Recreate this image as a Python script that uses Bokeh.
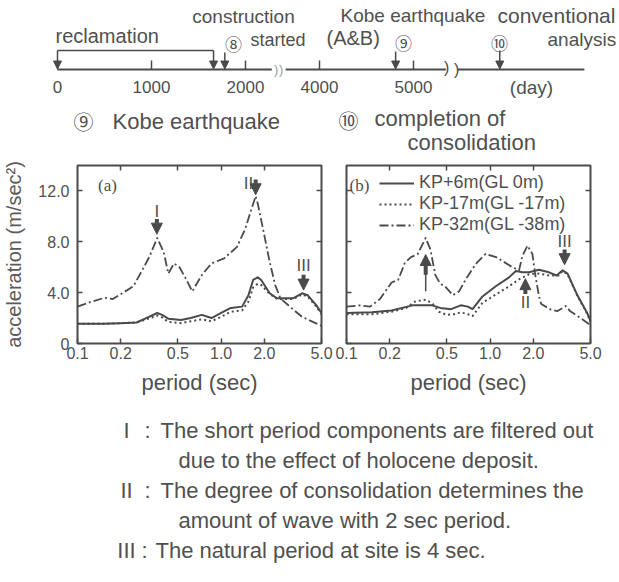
from bokeh.plotting import figure
from bokeh.models import (Range1d, LinearAxis, LogAxis, FixedTicker, PrintfTickFormatter,
                          Arrow, NormalHead)
from bokeh.layouts import column, row
from bokeh.core.properties import value
from bokeh.embed import file_html
from bokeh.resources import INLINE

# ---------------------------------------------------------------- data
# time line (days since start of reclamation)
TICK_DAYS = [0, 1000, 2000, 4000, 5000]
TICK_LABELS = ["0", "1000", "2000", "4000", "5000"]
RECLAMATION = (0, 1660)
CONSTRUCTION_DAY = 1780
KOBE_DAY = 4810
ANALYSIS_DAY = 6550
AXIS_SEGMENTS = [(0, 2280), (3640, 5345), (6100, 7450)]

# panel (a): Kobe earthquake  -- period (sec) / acceleration (m/sec2)
A_T_6 = [0.1, 0.15, 0.2, 0.258, 0.301, 0.359, 0.388, 0.429, 0.526, 0.614, 0.735, 0.857, 1.0,
         1.17, 1.40, 1.55, 1.67, 1.80, 1.90, 2.18, 2.45, 2.91, 3.17, 3.66, 4.0, 4.61, 5.0]
A_KP6 = [1.55, 1.55, 1.6, 1.65, 2.0, 2.4, 2.25, 1.95, 1.85, 2.0, 2.25, 2.0, 2.4,
         2.8, 2.9, 3.8, 5.0, 5.2, 5.0, 3.95, 3.55, 3.55, 3.55, 3.95, 3.8, 3.0, 2.4]
A_T_17 = A_T_6
A_KP17 = [1.55, 1.55, 1.6, 1.65, 1.9, 2.2, 2.05, 1.7, 1.6, 1.75, 1.9, 1.75, 2.1,
          2.5, 2.6, 3.3, 4.4, 4.7, 4.6, 3.9, 3.5, 3.5, 3.5, 3.85, 3.7, 2.9, 2.3]
A_T_32 = [0.1, 0.126, 0.155, 0.176, 0.205, 0.245, 0.271, 0.316, 0.359, 0.398, 0.429, 0.47,
          0.513, 0.568, 0.63, 0.735, 0.857, 1.05, 1.29, 1.47, 1.63, 1.74, 1.80, 2.0, 2.18,
          2.38, 2.59, 3.08, 3.66, 4.35, 5.0]
A_KP32 = [2.9, 3.3, 3.6, 3.5, 3.95, 4.5, 5.4, 6.8, 8.3, 7.2, 5.5, 6.3,
          6.0, 5.1, 4.1, 5.4, 6.3, 6.7, 7.6, 9.0, 10.6, 11.6, 11.0, 8.5, 6.4,
          4.6, 3.55, 2.8, 2.1, 1.7, 1.4]

# panel (b): completion of consolidation
B_T_6 = [0.1, 0.15, 0.206, 0.289, 0.394, 0.45, 0.535, 0.624, 0.70, 0.754, 0.885, 1.095,
         1.355, 1.51, 1.68, 1.87, 2.19, 2.57, 2.9, 3.2, 3.46, 4.07, 4.74, 5.0]
B_KP6 = [2.4, 2.45, 2.6, 3.0, 3.0, 2.8, 2.7, 3.0, 2.9, 2.7, 3.7, 4.5,
         5.2, 5.7, 5.6, 5.6, 5.8, 5.6, 5.35, 5.75, 5.5, 3.75, 2.4, 1.75]
B_T_17 = [0.1, 0.15, 0.206, 0.26, 0.30, 0.356, 0.40, 0.44, 0.50, 0.56, 0.624, 0.70, 0.754,
          0.885, 1.095, 1.355, 1.59, 1.87, 2.19, 2.57, 3.0, 3.2, 3.46, 4.07, 4.74, 5.0]
B_KP17 = [2.3, 2.3, 2.5, 2.8, 3.3, 3.45, 3.1, 2.5, 2.25, 2.3, 2.45, 2.3, 2.15,
          3.2, 3.85, 4.5, 5.05, 5.45, 5.5, 5.35, 5.35, 5.7, 5.45, 3.7, 2.35, 1.7]
B_T_32 = [0.1, 0.124, 0.146, 0.171, 0.206, 0.229, 0.254, 0.281, 0.312, 0.356, 0.384, 0.415,
          0.449, 0.485, 0.55, 0.608, 0.689, 0.801, 0.93, 1.10, 1.43, 1.59, 1.68, 1.82, 1.97,
          2.07, 2.19, 2.27, 2.66, 2.95, 3.37, 3.6, 4.27, 5.0]
B_KP32 = [2.9, 3.0, 2.9, 3.5, 4.8, 5.0, 6.3, 6.8, 7.0, 8.3, 7.4, 5.4,
          4.7, 4.5, 3.8, 4.1, 5.2, 6.3, 7.05, 6.8, 6.0, 5.75, 6.9, 7.7, 7.05,
          5.3, 3.7, 3.1, 2.65, 2.55, 2.95, 2.55, 2.0, 1.45]

SERIES_LABELS = ["KP+6m(GL 0m)", "KP-17m(GL -17m)", "KP-32m(GL -38m)"]
PERIOD_TICKS = [0.1, 0.2, 0.5, 1.0, 2.0, 5.0]
ACC_TICKS = [0, 4, 8, 12]

NOTES = [
    ("I", "The short period components are filtered out", "due to the effect of holocene deposit."),
    ("II", "The degree of consolidation determines the", "amount of wave with 2 sec period."),
    ("III", "The natural period at site is 4 sec.", None),
]

# ---------------------------------------------------------------- style
FONT = "Liberation Sans"
CJK = "Noto Sans CJK JP"
INK = "#4a4a4a"
TXT = "#505050"
DOT = "2 3"
DASHDOT = "9 3 2 3"


def day_to_axis(d):
    """broken time axis: two gaps are cut out"""
    if d <= 2300:
        return d
    if d <= 5400:
        return d - 1213
    return d - 1845


# ---------------------------------------------------------------- time line
PX0, PX_PER = 57.0, 0.094     # screen placement of day 0 and px per day


def px(xp):
    return (xp - PX0) / PX_PER


tl = figure(width=619, height=100, x_range=Range1d(px(0), px(619)), y_range=Range1d(100, 0),
            y_axis_type=None, output_backend="svg", toolbar_location=None,
            min_border=0, outline_line_color=None,
            background_fill_color="white", border_fill_color="white")
tl.xgrid.visible = False
ax = tl.xaxis[0]
ax.fixed_location = 69
ax.ticker = FixedTicker(ticks=[day_to_axis(d) for d in TICK_DAYS])
ax.major_label_overrides = {day_to_axis(d): lab for d, lab in zip(TICK_DAYS, TICK_LABELS)}
ax.axis_line_color = None
ax.major_tick_in = 9
ax.major_tick_out = 0
ax.major_tick_line_color = INK
ax.major_tick_line_width = 1.5
ax.minor_tick_line_color = None
ax.major_label_text_font = FONT
ax.major_label_text_font_size = "17px"
ax.major_label_text_color = TXT
ax.major_label_standoff = 11

tl.segment(x0=[day_to_axis(a) for a, b in AXIS_SEGMENTS], x1=[day_to_axis(b) for a, b in AXIS_SEGMENTS],
           y0=69, y1=69, line_color=INK, line_width=2)
# break marks
b1 = (day_to_axis(AXIS_SEGMENTS[0][1]) + day_to_axis(AXIS_SEGMENTS[1][0])) / 2
b2 = (day_to_axis(AXIS_SEGMENTS[1][1]) + day_to_axis(AXIS_SEGMENTS[2][0])) / 2
tl.text(x=[b1 - 2.5 / PX_PER, b1 + 2.5 / PX_PER], y=[69, 69], text=[")", ")"],
        text_font=value(FONT), text_font_size="13px", text_color="#9a9a9a",
        text_align="center", text_baseline="middle")
tl.text(x=[b2 - 5 / PX_PER, b2 + 5 / PX_PER], y=[67, 69], text=[")", ")"],
        text_font=value(FONT), text_font_size="16px", text_color=INK,
        text_align="center", text_baseline="middle")
# reclamation bracket and event arrows
tl.segment(x0=[day_to_axis(RECLAMATION[0])], x1=[day_to_axis(RECLAMATION[1])], y0=50, y1=50,
           line_color=INK, line_width=1.5)
for d, y0 in [(RECLAMATION[0], 50), (RECLAMATION[1], 50), (CONSTRUCTION_DAY, 52),
              (KOBE_DAY, 51), (ANALYSIS_DAY, 50)]:
    xa = day_to_axis(d)
    tl.add_layout(Arrow(end=NormalHead(size=8, fill_color=INK, line_color=INK),
                        x_start=xa, y_start=y0, x_end=xa, y_end=68.5,
                        line_color=INK, line_width=1.5))

tl_texts = [
    ("reclamation", px(55), 35, "20px", "left"),
    ("construction", px(243), 16, "19px", "center"),
    ("started", px(250), 39, "18px", "left"),
    ("(A&B)", px(326), 37, "20px", "left"),
    ("Kobe earthquake", px(340), 15, "19px", "left"),
    ("conventional", px(497), 15, "21px", "left"),
    ("analysis", px(547), 39, "19px", "left"),
    ("(day)", px(531), 87, "19px", "center"),
]
for t, x, y, s, al in tl_texts:
    tl.text(x=[x], y=[y], text=[t], text_font=value(FONT), text_font_size=s, text_color=TXT,
            text_align=al, text_baseline="middle")
tl.text(x=[px(233), px(403), px(499)], y=[43, 42, 42], text=["⑧", "⑨", "⑩"],
        text_font=value(CJK), text_font_size="17px", text_color=TXT,
        text_align="center", text_baseline="middle")

# ---------------------------------------------------------------- panel titles
tt = figure(width=619, height=55, x_range=Range1d(0, 619), y_range=Range1d(155, 100),
            x_axis_type=None, y_axis_type=None, output_backend="svg", toolbar_location=None,
            min_border=0, outline_line_color=None, border_fill_color="white")
tt.grid.visible = False
tt.text(x=[83, 348], y=[121, 120], text=["⑨", "⑩"], text_font=value(CJK), text_font_size="20px",
        text_color=TXT, text_align="center", text_baseline="middle")
tt.text(x=[112, 374, 407], y=[121, 118, 142], text=["Kobe earthquake", "completion of", "consolidation"],
        text_font=value(FONT), text_font_size="22px", text_color=TXT,
        text_align="left", text_baseline="middle")


# ---------------------------------------------------------------- spectra panels
def hide_labels(a):
    a.major_label_text_font_size = "1px"
    a.major_label_text_color = None
    a.major_label_standoff = 0


def panel(width, left, right, labels_y):
    p = figure(width=width, height=245, x_axis_type="log", x_range=Range1d(0.1, 5.0),
               y_range=Range1d(0, 14), output_backend="svg", toolbar_location=None,
               min_border_left=left, min_border_right=right, min_border_top=10, min_border_bottom=57,
               outline_line_color=INK, outline_line_width=2, border_fill_color="white")
    p.grid.visible = False
    bx = p.xaxis[0]
    bx.ticker = FixedTicker(ticks=PERIOD_TICKS)
    bx.formatter = PrintfTickFormatter(format="%.1f")
    bx.axis_label = "period (sec)"
    bx.axis_label_text_font = FONT
    bx.axis_label_text_font_style = "normal"
    bx.axis_label_text_font_size = "22px"
    bx.axis_label_text_color = TXT
    bx.axis_label_standoff = 8
    bx.major_label_text_font = FONT
    bx.major_label_text_font_size = "16px"
    bx.major_label_text_color = TXT
    bx.major_label_standoff = 3
    ly = p.yaxis[0]
    ly.ticker = FixedTicker(ticks=ACC_TICKS)
    if labels_y:
        ly.formatter = PrintfTickFormatter(format="%.1f")
        ly.major_label_overrides = {0: "0"}
        ly.major_label_text_font = FONT
        ly.major_label_text_font_size = "16px"
        ly.major_label_text_color = TXT
        ly.major_label_standoff = 8
        ly.axis_label = "acceleration (m/sec²)"
        ly.axis_label_text_font = FONT
        ly.axis_label_text_font_style = "normal"
        ly.axis_label_text_font_size = "20px"
        ly.axis_label_text_color = "#5a5a5a"
        ly.axis_label_standoff = 10
    else:
        hide_labels(ly)
    top = LogAxis(ticker=FixedTicker(ticks=[0.2, 0.5, 1.0, 2.0]))
    rgt = LinearAxis(ticker=FixedTicker(ticks=[4, 8, 12]))
    hide_labels(top)
    hide_labels(rgt)
    p.add_layout(top, "above")
    p.add_layout(rgt, "right")
    for a in (bx, ly, top, rgt):
        a.axis_line_color = None
        a.major_tick_in = 5
        a.major_tick_out = 0
        a.major_tick_line_color = INK
        a.major_tick_line_width = 1.5
        a.minor_tick_line_color = None
    return p


def add_arrow(p, x, y0, y1, width=4, size=11):
    p.add_layout(Arrow(end=NormalHead(size=size, fill_color=INK, line_color=INK),
                       x_start=x, y_start=y0, x_end=x, y_end=y1,
                       line_color=INK, line_width=width))


def roman(p, xs, ys, texts):
    p.text(x=xs, y=ys, text=texts, text_font=value(FONT), text_font_size="17px",
           text_color=TXT, text_align="center", text_baseline="middle")


pa = panel(333, 76, 12, True)
pa.line(A_T_6, A_KP6, line_color=INK, line_width=2, line_join="round")
pa.line(A_T_17, A_KP17, line_color=INK, line_width=2, line_dash=DOT)
pa.line(A_T_32, A_KP32, line_color=INK, line_width=1.8, line_dash=DASHDOT, line_join="round")
pa.text(x=[0.139], y=[12.4], text=["(a)"], text_font=value("Liberation Serif"), text_font_size="17px",
        text_color=TXT, text_align="left", text_baseline="middle")
add_arrow(pa, 0.357, 9.8, 8.6)
add_arrow(pa, 1.74, 12.9, 11.7)
add_arrow(pa, 3.75, 5.4, 4.2)
roman(pa, [0.357, 1.55, 3.75], [10.4, 12.6, 6.15], ["I", "II", "III"])

pb = panel(286, 13, 29, False)
pb.line(B_T_6, B_KP6, line_color=INK, line_width=2, line_join="round", legend_label=SERIES_LABELS[0])
pb.line(B_T_17, B_KP17, line_color=INK, line_width=2, line_dash=DOT, legend_label=SERIES_LABELS[1])
pb.line(B_T_32, B_KP32, line_color=INK, line_width=1.8, line_dash=DASHDOT, line_join="round",
        legend_label=SERIES_LABELS[2])
pb.text(x=[0.105], y=[12.4], text=["(b)"], text_font=value("Liberation Serif"), text_font_size="17px",
        text_color=TXT, text_align="left", text_baseline="middle")
pb.segment(x0=[0.356], x1=[0.356], y0=[4.1], y1=[5.6], line_color=INK, line_width=1.5)
add_arrow(pb, 0.356, 5.4, 7.0)
add_arrow(pb, 1.76, 3.9, 5.1)
add_arrow(pb, 3.3, 7.4, 6.2)
roman(pb, [1.76, 3.3], [3.25, 8.0], ["II", "III"])

lg = pb.legend[0]
lg.location = (33, 108)
lg.border_line_alpha = 0
lg.background_fill_alpha = 0
lg.padding = 0
lg.margin = 0
lg.spacing = 0
lg.glyph_width = 35
lg.glyph_height = 18
lg.label_height = 18
lg.label_standoff = 5
lg.label_text_font = FONT
lg.label_text_font_size = "18px"
lg.label_text_color = TXT

# ---------------------------------------------------------------- notes
nt = figure(width=619, height=182, x_range=Range1d(0, 619), y_range=Range1d(582, 400),
            x_axis_type=None, y_axis_type=None, output_backend="svg", toolbar_location=None,
            min_border=0, outline_line_color=None, border_fill_color="white")
nt.grid.visible = False
num_x, num_y, col_x, txt_x, txt_y, txt = [], [], [], [], [], []
y = 430
for k, (num, first, second) in enumerate(NOTES):
    num_x.append(126)
    num_y.append(y)
    col_x.append(147 if k < 2 else 144)
    txt_x.append(160 if k < 2 else 155)
    txt_y.append(y)
    txt.append(first)
    if second:
        txt_x.append(178)
        txt_y.append(y + 30)
        txt.append(second)
        y += 60
    else:
        y += 30
nt.text(x=num_x, y=num_y, text=[n[0] for n in NOTES], text_font=value(FONT), text_font_size="22px",
        text_color=TXT, text_align="center", text_baseline="middle")
nt.text(x=col_x, y=num_y, text=[":"] * 3, text_font=value(FONT), text_font_size="22px",
        text_color=TXT, text_align="center", text_baseline="middle")
nt.text(x=txt_x, y=txt_y, text=txt, text_font=value(FONT), text_font_size="22px",
        text_color=TXT, text_align="left", text_baseline="middle")

layout = column(tl, tt, row(pa, pb, spacing=0), nt, spacing=0)
open("out.html", "w").write(file_html(layout, INLINE))
